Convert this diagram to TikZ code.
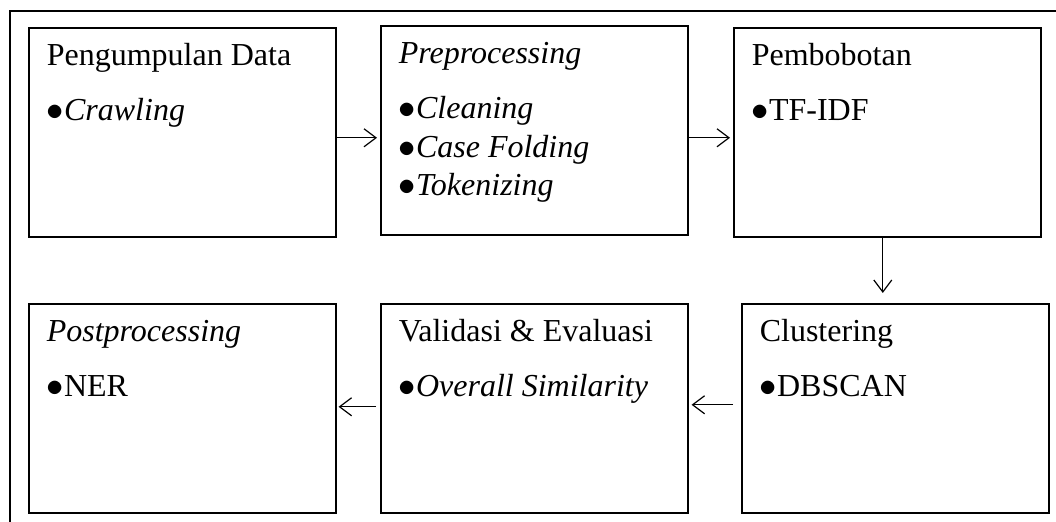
\documentclass[tikz,border=0pt]{standalone}
\usepackage{fontspec}
\setmainfont{Liberation Serif}
\usetikzlibrary{arrows.meta}
\newcommand{\stagebox}[2]{\parbox[t][104.5pt][t]{135.5pt}{\rule{0pt}{19pt}#1\\[8.3pt]#2}}
\newcommand{\itm}{$\bullet$}
\begin{document}
\begin{tikzpicture}[x=0.5pt,y=-0.5pt,
stage/.style={draw,line width=0.8pt,anchor=north west,inner xsep=9pt,inner ysep=0pt,font=\fontsize{16pt}{19.25pt}\selectfont},
flow/.style={-{Straight Barb[length=6pt,width=9pt]},line width=0.6pt,shorten >=1.5pt},
]
\useasboundingbox (0,0) rectangle (1056,522);
%frame
\draw[line width=0.8pt] (10,522) |- (1056,11);

%first row
\node[stage] (collect) at (28,27) {\stagebox{Pengumpulan Data}{\itm\textit{Crawling}}};
\node[stage] (prep) at (380,25) {\stagebox{\textit{Preprocessing}}{\itm\textit{Cleaning}\\\itm\textit{Case Folding}\\\itm\textit{Tokenizing}}};
\node[stage] (weight) at (733,27) {\stagebox{Pembobotan}{\itm TF-IDF}};
%second row
\node[stage] (cluster) at (741,303) {\stagebox{Clustering}{\itm DBSCAN}};
\node[stage] (valid) at (380,303) {\stagebox{Validasi \& Evaluasi}{\itm\textit{Overall Similarity}}};
\node[stage] (post) at (28,303) {\stagebox{\textit{Postprocessing}}{\itm NER}};

%flow
\draw[flow] ([yshift=-2.75pt]collect.east) -- ([yshift=-2.75pt]collect.east -| prep.west);
\draw[flow] ([yshift=-3.75pt]prep.east) -- ([yshift=-3.75pt]prep.east -| weight.west);
\draw[flow,shorten >=5pt] ([xshift=-2.25pt]weight.south) -- ([xshift=-2.25pt]weight.south |- cluster.north);
\draw[flow,shorten <=4pt] ([yshift=1.75pt]cluster.west) -- ([yshift=1.75pt]cluster.west -| valid.east);
\draw[flow,shorten <=2pt,shorten >=1pt] ([yshift=0.75pt]valid.west) -- ([yshift=0.75pt]valid.west -| post.east);

\end{tikzpicture}
\end{document}
